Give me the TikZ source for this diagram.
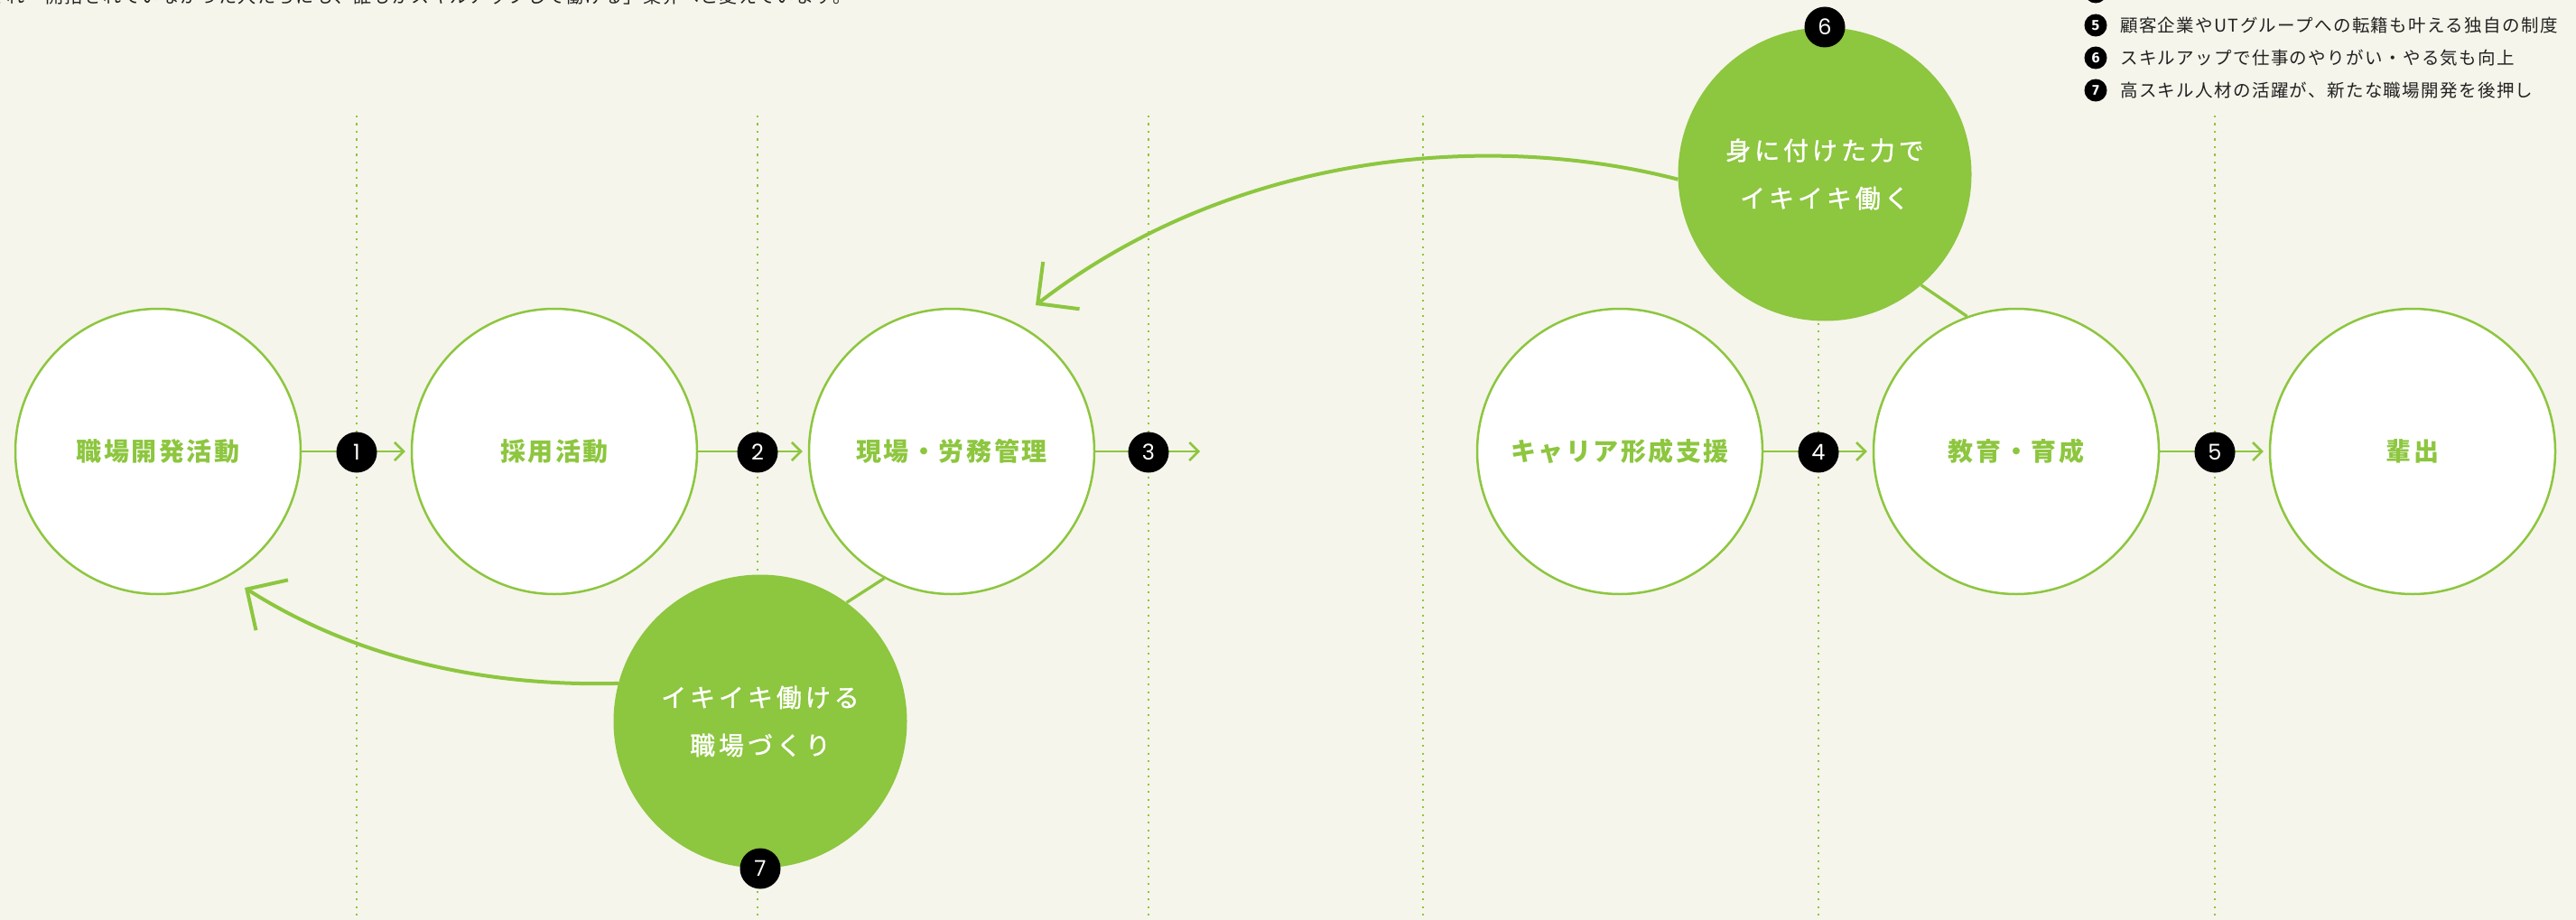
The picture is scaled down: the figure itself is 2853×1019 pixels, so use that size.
\documentclass[tikz,border=0pt]{standalone}
\usepackage{fontspec}
\usetikzlibrary{arrows.meta}
\newfontfamily\nodefont{Noto Sans CJK JP}[LetterSpace=9]
\newfontfamily\roundfont{Noto Sans CJK JP}[LetterSpace=14, FakeBold=1.2]
\newfontfamily\legfont{Noto Sans CJK JP}[LetterSpace=7]
\newfontfamily\numfont{Poppins}
\newfontfamily\legnum{Fira Sans}
\definecolor{grn}{HTML}{8DC63F}
\definecolor{bgc}{HTML}{F5F5EB}
\definecolor{ink}{HTML}{222222}
\tikzset{
  wc/.style={circle, draw=grn, line width=2.5pt, fill=white, minimum size=316pt, inner sep=0pt,
    text=grn, font=\nodefont\bfseries\fontsize{28}{34}\selectfont},
  gc/.style={circle, fill=grn, minimum size=325pt, inner sep=0pt, text=white, align=center,
    font=\roundfont\fontsize{28}{53}\selectfont},
  badge/.style={circle, fill=black, minimum size=45pt, inner sep=0pt, text=white,
    font=\numfont\fontsize{24}{24}\selectfont},
  sbadge/.style={circle, fill=black, minimum size=25pt, inner sep=0pt, text=white,
    font=\legnum\bfseries\fontsize{16}{16}\selectfont},
  legtext/.style={anchor=west, inner sep=0pt, text=ink, font=\legfont\fontsize{19.5}{24}\selectfont},
  flow/.style={draw=grn, line width=2.5pt, -{Straight Barb[length=10pt,width=20pt]}},
  conn/.style={draw=grn, line width=3.3pt},
  backarrow/.style={draw=grn, line width=4pt, -{Straight Barb[length=33pt,width=66pt]}},
  guide/.style={draw=grn, line width=2.2pt, dash pattern=on 2.2pt off 6.3pt},
}
\begin{document}
\begin{tikzpicture}[x=1pt,y=-1pt]
\fill[bgc] (0,0) rectangle (2853,1019);
\useasboundingbox (0,0) rectangle (2853,1019);

% dotted guides
\foreach \gx in {395,839,1272,1576,2014,2453}
  \draw[guide] (\gx,128) -- (\gx,1019);

% process circles
\node[wc] (c1) at (175,500) {職場開発活動};
\node[wc] (c2) at (614,500) {採用活動};
\node[wc] (c3) at (1054,500) {現場・労務管理};
\node[wc] (c4) at (1794,500) {キャリア形成支援};
\node[wc] (c5) at (2233,500) {教育・育成};
\node[wc] (c6) at (2672,500) {輩出};

% green circles
\node[gc] (g6) at (2021,193) {身に付けた力で\\イキイキ働く};
\node[gc] (g7) at (842,799) {イキイキ働ける\\職場づくり};

% links
\draw[conn] (c3.242) -- (g7.54);
\draw[conn] (g6.-49) -- (c5.110);

% flow arrows
\coordinate (e3) at (1329,500);
\draw[flow] (c1.east) -- ([xshift=-6pt]c2.west);
\draw[flow] (c2.east) -- ([xshift=-6pt]c3.west);
\draw[flow] (c3.east) -- (e3);
\draw[flow] (c4.east) -- ([xshift=-6pt]c5.west);
\draw[flow] (c5.east) -- ([xshift=-6pt]c6.west);

% loop arrows
\coordinate (t6) at (1147,338);
\coordinate (t7) at (271,651);
\draw[backarrow] (g6.182) .. controls (1647,144) and (1366,169) .. (t6);
\draw[backarrow] (g7.165) .. controls (523,761) and (384,723) .. (t7);

% badges
\node[badge] (b1) at (395,501) {1};
\node[badge] (b2) at (839,501) {2};
\node[badge] (b3) at (1272,501) {3};
\node[badge] (b4) at (2014,501) {4};
\node[badge] (b5) at (2453,501) {5};
\node[badge] (b6) at (2021,30) {6};
\node[badge] (b7) at (842,962) {7};

% legend and cut text at the top edge
\begin{scope}
\clip (0,0) rectangle (2853,1019);
\node[sbadge] (l4) at (2321,-9) {4};
\node[sbadge] (l5) at (2321,28) {5};
\node[legtext] (l5t) at (2348,28) {顧客企業やUTグループへの転籍も叶える独自の制度};
\node[sbadge] (l6) at (2321,64) {6};
\node[legtext] (l6t) at (2348,64) {スキルアップで仕事のやりがい・やる気も向上};
\node[sbadge] (l7) at (2321,100) {7};
\node[legtext] (l7t) at (2348,100) {高スキル人材の活躍が、新たな職場開発を後押し};
\node[anchor=base west, inner sep=0pt, text=ink, font=\legfont\fontsize{20}{24}\selectfont] (top) at (-14,3.5)
  {くれ「開拓されていなかった人たちにも、誰もがスキルアップして働ける」業界へと変えています。};
\end{scope}
\end{tikzpicture}
\end{document}
